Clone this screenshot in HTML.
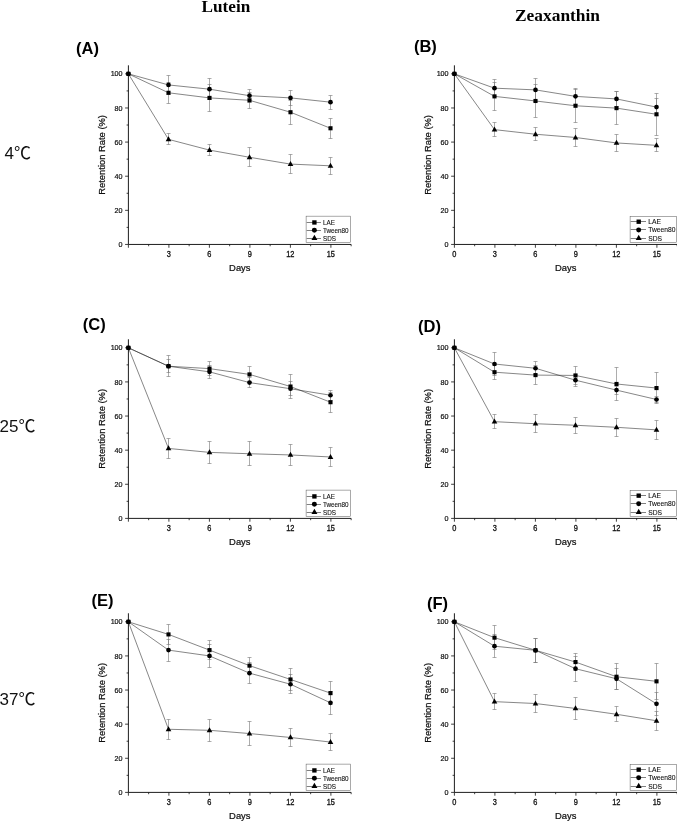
<!DOCTYPE html>
<html lang="en"><head><meta charset="utf-8"><title>Retention rate of lutein and zeaxanthin</title>
<style>
html,body{margin:0;padding:0;background:#fff}
body{width:677px;height:821px;overflow:hidden;position:relative}
svg{position:absolute;left:0;top:0;display:block}
text{font-family:"Liberation Sans",sans-serif;fill:#111}
.tk{font-size:7.2px;stroke:#111;stroke-width:0.2px;letter-spacing:-0.2px}
.tx{font-size:7.4px;stroke-width:0.28px;letter-spacing:-0.1px}
.at{font-size:9.4px;stroke:#111;stroke-width:0.22px}
.lg{font-size:6.35px;stroke:#111;stroke-width:0.1px}
.lr{font-size:6.7px}
.pl{font-size:16.5px;font-weight:bold;fill:#000}
.ti{font-family:"Liberation Serif",serif;font-weight:bold;font-size:17px;fill:#000}
.tp{font-family:"Liberation Sans","Noto Sans CJK SC",sans-serif;font-size:17px;fill:#111}
</style></head><body>
<svg width="677" height="821" viewBox="0 0 677 821">
<rect width="677" height="821" fill="#fff"/>
<text class="ti" x="201.5" y="12" style="font-size:17.2px">Lutein</text>
<text class="ti" x="515" y="21" style="font-size:17.4px">Zeaxanthin</text>
<text class="tp" x="4.5" y="159.0">4℃</text>
<text class="tp" x="-0.5" y="431.8">25℃</text>
<text class="tp" x="-0.5" y="705.4">37℃</text>
<g>
<path d="M128.4 65.32 V244.45 H351.15" fill="none" stroke="#111" stroke-width="0.95"/>
<path d="M128.4 244.45 h-3.3 M128.4 210.33 h-3.3 M128.4 176.21 h-3.3 M128.4 142.09 h-3.3 M128.4 107.97 h-3.3 M128.4 73.85 h-3.3 M128.4 227.39 h-1.8 M128.4 193.27 h-1.8 M128.4 159.15 h-1.8 M128.4 125.03 h-1.8 M128.4 90.91 h-1.8 M128.4 244.45 v3.3 M168.9 244.45 v3.3 M209.4 244.45 v3.3 M249.9 244.45 v3.3 M290.4 244.45 v3.3 M330.9 244.45 v3.3 M148.65 244.45 v1.8 M189.15 244.45 v1.8 M229.65 244.45 v1.8 M270.15 244.45 v1.8 M310.65 244.45 v1.8 M351.15 244.45 v1.8" fill="none" stroke="#111" stroke-width="0.8"/>
<text class="tk" transform="translate(122.2 247.05) scale(1 1.1)" text-anchor="end">0</text>
<text class="tk" transform="translate(122.2 212.93) scale(1 1.1)" text-anchor="end">20</text>
<text class="tk" transform="translate(122.2 178.81) scale(1 1.1)" text-anchor="end">40</text>
<text class="tk" transform="translate(122.2 144.69) scale(1 1.1)" text-anchor="end">60</text>
<text class="tk" transform="translate(122.2 110.57) scale(1 1.1)" text-anchor="end">80</text>
<text class="tk" transform="translate(122.2 76.45) scale(1 1.1)" text-anchor="end">100</text>
<text class="tk tx" transform="translate(168.75 256.65) scale(1 1.14)" text-anchor="middle">3</text>
<text class="tk tx" transform="translate(209.25 256.65) scale(1 1.14)" text-anchor="middle">6</text>
<text class="tk tx" transform="translate(249.75 256.65) scale(1 1.14)" text-anchor="middle">9</text>
<text class="tk tx" transform="translate(290.25 256.65) scale(1 1.14)" text-anchor="middle">12</text>
<text class="tk tx" transform="translate(330.75 256.65) scale(1 1.14)" text-anchor="middle">15</text>
<text class="at" transform="translate(239.78 270.95)" text-anchor="middle">Days</text>
<text class="at" transform="translate(105.4 154.88) rotate(-90)" text-anchor="middle">Retention Rate (%)</text>
<path d="M168.5 82.5 V103.5 M166.5 82.5 h4 M166.5 103.5 h4 M209.5 84.5 V111.5 M207.5 84.5 h4 M207.5 111.5 h4 M249.5 92.5 V108.5 M247.5 92.5 h4 M247.5 108.5 h4 M290.5 100.5 V124.5 M288.5 100.5 h4 M288.5 124.5 h4 M330.5 118.5 V138.5 M328.5 118.5 h4 M328.5 138.5 h4 M168.5 75.5 V94.5 M166.5 75.5 h4 M166.5 94.5 h4 M209.5 78.5 V99.5 M207.5 78.5 h4 M207.5 99.5 h4 M249.5 89.5 V102.5 M247.5 89.5 h4 M247.5 102.5 h4 M290.5 90.5 V105.5 M288.5 90.5 h4 M288.5 105.5 h4 M330.5 95.5 V109.5 M328.5 95.5 h4 M328.5 109.5 h4 M168.5 133.5 V144.5 M166.5 133.5 h4 M166.5 144.5 h4 M209.5 144.5 V155.5 M207.5 144.5 h4 M207.5 155.5 h4 M249.5 147.5 V166.5 M247.5 147.5 h4 M247.5 166.5 h4 M290.5 154.5 V173.5 M288.5 154.5 h4 M288.5 173.5 h4 M330.5 157.5 V174.5 M328.5 157.5 h4 M328.5 174.5 h4" fill="none" stroke="#767676" stroke-width="0.6"/>
<polyline points="128.4,73.85 168.5,92.79 209.5,97.9 249.5,100.29 290.5,112.23 330.5,128.27" fill="none" stroke="#222" stroke-width="0.55"/>
<polyline points="128.4,73.85 168.5,84.94 209.5,89.2 249.5,95.69 290.5,97.9 330.5,102.17" fill="none" stroke="#222" stroke-width="0.55"/>
<polyline points="128.4,73.85 168.5,139.36 209.5,150.11 249.5,157.27 290.5,164.1 330.5,165.8" fill="none" stroke="#222" stroke-width="0.55"/>
<rect x="126.35" y="71.8" width="4.1" height="4.1" fill="#000"/>
<rect x="166.45" y="90.74" width="4.1" height="4.1" fill="#000"/>
<rect x="207.45" y="95.85" width="4.1" height="4.1" fill="#000"/>
<rect x="247.45" y="98.24" width="4.1" height="4.1" fill="#000"/>
<rect x="288.45" y="110.18" width="4.1" height="4.1" fill="#000"/>
<rect x="328.45" y="126.22" width="4.1" height="4.1" fill="#000"/>
<circle cx="128.4" cy="73.85" r="2.35" fill="#000"/>
<circle cx="168.5" cy="84.94" r="2.35" fill="#000"/>
<circle cx="209.5" cy="89.2" r="2.35" fill="#000"/>
<circle cx="249.5" cy="95.69" r="2.35" fill="#000"/>
<circle cx="290.5" cy="97.9" r="2.35" fill="#000"/>
<circle cx="330.5" cy="102.17" r="2.35" fill="#000"/>
<path d="M168.5 136.26 L171.3 141.26 L165.7 141.26 Z" fill="#000"/>
<path d="M209.5 147.01 L212.3 152.01 L206.7 152.01 Z" fill="#000"/>
<path d="M249.5 154.17 L252.3 159.17 L246.7 159.17 Z" fill="#000"/>
<path d="M290.5 161 L293.3 166 L287.7 166 Z" fill="#000"/>
<path d="M330.5 162.7 L333.3 167.7 L327.7 167.7 Z" fill="#000"/>
<rect x="306.1" y="216.15" width="44.5" height="26.45" fill="#fff" stroke="#555" stroke-width="0.5"/>
<path d="M306.7 222.5 h14.3" stroke="#2a2a2a" stroke-width="0.6"/>
<rect x="312.23" y="220.28" width="4.35" height="4.35" fill="#000"/>
<text class="lg" transform="translate(322.9 224.95) scale(1 1.08)">LAE</text>
<path d="M306.7 230.5 h14.3" stroke="#2a2a2a" stroke-width="0.6"/>
<circle cx="314.4" cy="230.25" r="2.49" fill="#000"/>
<text class="lg" transform="translate(322.9 232.75) scale(1 1.08)">Tween80</text>
<path d="M306.7 238.5 h14.3" stroke="#2a2a2a" stroke-width="0.6"/>
<path d="M314.4 234.76 L317.37 240.06 L311.43 240.06 Z" fill="#000"/>
<text class="lg" transform="translate(322.9 240.55) scale(1 1.08)">SDS</text>
<text class="pl" x="76" y="53.7">(A)</text>
</g>
<g>
<path d="M454.4 65.32 V244.45 H677.15" fill="none" stroke="#111" stroke-width="0.95"/>
<path d="M454.4 244.45 h-3.3 M454.4 210.33 h-3.3 M454.4 176.21 h-3.3 M454.4 142.09 h-3.3 M454.4 107.97 h-3.3 M454.4 73.85 h-3.3 M454.4 227.39 h-1.8 M454.4 193.27 h-1.8 M454.4 159.15 h-1.8 M454.4 125.03 h-1.8 M454.4 90.91 h-1.8 M454.4 244.45 v3.3 M494.9 244.45 v3.3 M535.4 244.45 v3.3 M575.9 244.45 v3.3 M616.4 244.45 v3.3 M656.9 244.45 v3.3 M474.65 244.45 v1.8 M515.15 244.45 v1.8 M555.65 244.45 v1.8 M596.15 244.45 v1.8 M636.65 244.45 v1.8 M677.15 244.45 v1.8" fill="none" stroke="#111" stroke-width="0.8"/>
<text class="tk" transform="translate(448.2 247.05) scale(1 1.1)" text-anchor="end">0</text>
<text class="tk" transform="translate(448.2 212.93) scale(1 1.1)" text-anchor="end">20</text>
<text class="tk" transform="translate(448.2 178.81) scale(1 1.1)" text-anchor="end">40</text>
<text class="tk" transform="translate(448.2 144.69) scale(1 1.1)" text-anchor="end">60</text>
<text class="tk" transform="translate(448.2 110.57) scale(1 1.1)" text-anchor="end">80</text>
<text class="tk" transform="translate(448.2 76.45) scale(1 1.1)" text-anchor="end">100</text>
<text class="tk tx" transform="translate(454.25 256.65) scale(1 1.14)" text-anchor="middle">0</text>
<text class="tk tx" transform="translate(494.75 256.65) scale(1 1.14)" text-anchor="middle">3</text>
<text class="tk tx" transform="translate(535.25 256.65) scale(1 1.14)" text-anchor="middle">6</text>
<text class="tk tx" transform="translate(575.75 256.65) scale(1 1.14)" text-anchor="middle">9</text>
<text class="tk tx" transform="translate(616.25 256.65) scale(1 1.14)" text-anchor="middle">12</text>
<text class="tk tx" transform="translate(656.75 256.65) scale(1 1.14)" text-anchor="middle">15</text>
<text class="at" transform="translate(565.77 270.95)" text-anchor="middle">Days</text>
<text class="at" transform="translate(431.4 154.88) rotate(-90)" text-anchor="middle">Retention Rate (%)</text>
<path d="M494.5 82.5 V110.5 M492.5 82.5 h4 M492.5 110.5 h4 M535.5 84.5 V117.5 M533.5 84.5 h4 M533.5 117.5 h4 M575.5 89.5 V122.5 M573.5 89.5 h4 M573.5 122.5 h4 M616.5 91.5 V124.5 M614.5 91.5 h4 M614.5 124.5 h4 M656.5 93.5 V135.5 M654.5 93.5 h4 M654.5 135.5 h4 M494.5 79.5 V96.5 M492.5 79.5 h4 M492.5 96.5 h4 M535.5 78.5 V101.5 M533.5 78.5 h4 M533.5 101.5 h4 M575.5 88.5 V104.5 M573.5 88.5 h4 M573.5 104.5 h4 M616.5 91.5 V106.5 M614.5 91.5 h4 M614.5 106.5 h4 M656.5 98.5 V115.5 M654.5 98.5 h4 M654.5 115.5 h4 M494.5 122.5 V136.5 M492.5 122.5 h4 M492.5 136.5 h4 M535.5 127.5 V140.5 M533.5 127.5 h4 M533.5 140.5 h4 M575.5 128.5 V146.5 M573.5 128.5 h4 M573.5 146.5 h4 M616.5 134.5 V151.5 M614.5 134.5 h4 M614.5 151.5 h4 M656.5 138.5 V151.5 M654.5 138.5 h4 M654.5 151.5 h4" fill="none" stroke="#767676" stroke-width="0.6"/>
<polyline points="454.4,73.85 494.5,96.37 535.5,100.98 575.5,105.75 616.5,108.14 656.5,114.28" fill="none" stroke="#222" stroke-width="0.55"/>
<polyline points="454.4,73.85 494.5,88.18 535.5,89.89 575.5,96.37 616.5,98.93 656.5,107.12" fill="none" stroke="#222" stroke-width="0.55"/>
<polyline points="454.4,73.85 494.5,129.64 535.5,134.24 575.5,137.48 616.5,142.94 656.5,145.33" fill="none" stroke="#222" stroke-width="0.55"/>
<rect x="452.35" y="71.8" width="4.1" height="4.1" fill="#000"/>
<rect x="492.45" y="94.32" width="4.1" height="4.1" fill="#000"/>
<rect x="533.45" y="98.93" width="4.1" height="4.1" fill="#000"/>
<rect x="573.45" y="103.7" width="4.1" height="4.1" fill="#000"/>
<rect x="614.45" y="106.09" width="4.1" height="4.1" fill="#000"/>
<rect x="654.45" y="112.23" width="4.1" height="4.1" fill="#000"/>
<circle cx="454.4" cy="73.85" r="2.35" fill="#000"/>
<circle cx="494.5" cy="88.18" r="2.35" fill="#000"/>
<circle cx="535.5" cy="89.89" r="2.35" fill="#000"/>
<circle cx="575.5" cy="96.37" r="2.35" fill="#000"/>
<circle cx="616.5" cy="98.93" r="2.35" fill="#000"/>
<circle cx="656.5" cy="107.12" r="2.35" fill="#000"/>
<path d="M494.5 126.54 L497.3 131.54 L491.7 131.54 Z" fill="#000"/>
<path d="M535.5 131.14 L538.3 136.14 L532.7 136.14 Z" fill="#000"/>
<path d="M575.5 134.38 L578.3 139.38 L572.7 139.38 Z" fill="#000"/>
<path d="M616.5 139.84 L619.3 144.84 L613.7 144.84 Z" fill="#000"/>
<path d="M656.5 142.23 L659.3 147.23 L653.7 147.23 Z" fill="#000"/>
<rect x="630.1" y="216.45" width="46.5" height="26.15" fill="#fff" stroke="#555" stroke-width="0.5"/>
<path d="M630.7 221.5 h15.3" stroke="#2a2a2a" stroke-width="0.6"/>
<rect x="636.53" y="219.53" width="4.35" height="4.35" fill="#000"/>
<text class="lg lr" transform="translate(648.2 224.2) scale(1 1.08)">LAE</text>
<path d="M630.7 229.5 h15.3" stroke="#2a2a2a" stroke-width="0.6"/>
<circle cx="638.7" cy="229.9" r="2.49" fill="#000"/>
<text class="lg lr" transform="translate(648.2 232.4) scale(1 1.08)">Tween80</text>
<path d="M630.7 238.5 h15.3" stroke="#2a2a2a" stroke-width="0.6"/>
<path d="M638.7 234.81 L641.67 240.11 L635.73 240.11 Z" fill="#000"/>
<text class="lg lr" transform="translate(648.2 240.6) scale(1 1.08)">SDS</text>
<text class="pl" x="413.9" y="51.5">(B)</text>
</g>
<g>
<path d="M128.4 339.27 V518.4 H351.15" fill="none" stroke="#111" stroke-width="0.95"/>
<path d="M128.4 518.4 h-3.3 M128.4 484.28 h-3.3 M128.4 450.16 h-3.3 M128.4 416.04 h-3.3 M128.4 381.92 h-3.3 M128.4 347.8 h-3.3 M128.4 501.34 h-1.8 M128.4 467.22 h-1.8 M128.4 433.1 h-1.8 M128.4 398.98 h-1.8 M128.4 364.86 h-1.8 M128.4 518.4 v3.3 M168.9 518.4 v3.3 M209.4 518.4 v3.3 M249.9 518.4 v3.3 M290.4 518.4 v3.3 M330.9 518.4 v3.3 M148.65 518.4 v1.8 M189.15 518.4 v1.8 M229.65 518.4 v1.8 M270.15 518.4 v1.8 M310.65 518.4 v1.8 M351.15 518.4 v1.8" fill="none" stroke="#111" stroke-width="0.8"/>
<text class="tk" transform="translate(122.2 521) scale(1 1.1)" text-anchor="end">0</text>
<text class="tk" transform="translate(122.2 486.88) scale(1 1.1)" text-anchor="end">20</text>
<text class="tk" transform="translate(122.2 452.76) scale(1 1.1)" text-anchor="end">40</text>
<text class="tk" transform="translate(122.2 418.64) scale(1 1.1)" text-anchor="end">60</text>
<text class="tk" transform="translate(122.2 384.52) scale(1 1.1)" text-anchor="end">80</text>
<text class="tk" transform="translate(122.2 350.4) scale(1 1.1)" text-anchor="end">100</text>
<text class="tk tx" transform="translate(168.75 530.6) scale(1 1.14)" text-anchor="middle">3</text>
<text class="tk tx" transform="translate(209.25 530.6) scale(1 1.14)" text-anchor="middle">6</text>
<text class="tk tx" transform="translate(249.75 530.6) scale(1 1.14)" text-anchor="middle">9</text>
<text class="tk tx" transform="translate(290.25 530.6) scale(1 1.14)" text-anchor="middle">12</text>
<text class="tk tx" transform="translate(330.75 530.6) scale(1 1.14)" text-anchor="middle">15</text>
<text class="at" transform="translate(239.78 544.9)" text-anchor="middle">Days</text>
<text class="at" transform="translate(105.4 428.84) rotate(-90)" text-anchor="middle">Retention Rate (%)</text>
<path d="M168.5 359.5 V372.5 M166.5 359.5 h4 M166.5 372.5 h4 M209.5 361.5 V375.5 M207.5 361.5 h4 M207.5 375.5 h4 M249.5 366.5 V381.5 M247.5 366.5 h4 M247.5 381.5 h4 M290.5 374.5 V398.5 M288.5 374.5 h4 M288.5 398.5 h4 M330.5 392.5 V412.5 M328.5 392.5 h4 M328.5 412.5 h4 M168.5 355.5 V376.5 M166.5 355.5 h4 M166.5 376.5 h4 M209.5 365.5 V378.5 M207.5 365.5 h4 M207.5 378.5 h4 M249.5 377.5 V387.5 M247.5 377.5 h4 M247.5 387.5 h4 M290.5 381.5 V395.5 M288.5 381.5 h4 M288.5 395.5 h4 M330.5 390.5 V400.5 M328.5 390.5 h4 M328.5 400.5 h4 M168.5 438.5 V458.5 M166.5 438.5 h4 M166.5 458.5 h4 M209.5 441.5 V463.5 M207.5 441.5 h4 M207.5 463.5 h4 M249.5 441.5 V465.5 M247.5 441.5 h4 M247.5 465.5 h4 M290.5 444.5 V465.5 M288.5 444.5 h4 M288.5 465.5 h4 M330.5 447.5 V466.5 M328.5 447.5 h4 M328.5 466.5 h4" fill="none" stroke="#767676" stroke-width="0.6"/>
<polyline points="128.4,347.8 168.5,366.22 209.5,368.61 249.5,374.41 290.5,386.53 330.5,402.22" fill="none" stroke="#222" stroke-width="0.55"/>
<polyline points="128.4,347.8 168.5,366.22 209.5,371.85 249.5,382.6 290.5,388.74 330.5,395.23" fill="none" stroke="#222" stroke-width="0.55"/>
<polyline points="128.4,347.8 168.5,448.45 209.5,452.38 249.5,453.74 290.5,454.94 330.5,456.98" fill="none" stroke="#222" stroke-width="0.55"/>
<rect x="126.35" y="345.75" width="4.1" height="4.1" fill="#000"/>
<rect x="166.45" y="364.17" width="4.1" height="4.1" fill="#000"/>
<rect x="207.45" y="366.56" width="4.1" height="4.1" fill="#000"/>
<rect x="247.45" y="372.36" width="4.1" height="4.1" fill="#000"/>
<rect x="288.45" y="384.48" width="4.1" height="4.1" fill="#000"/>
<rect x="328.45" y="400.17" width="4.1" height="4.1" fill="#000"/>
<circle cx="128.4" cy="347.8" r="2.35" fill="#000"/>
<circle cx="168.5" cy="366.22" r="2.35" fill="#000"/>
<circle cx="209.5" cy="371.85" r="2.35" fill="#000"/>
<circle cx="249.5" cy="382.6" r="2.35" fill="#000"/>
<circle cx="290.5" cy="388.74" r="2.35" fill="#000"/>
<circle cx="330.5" cy="395.23" r="2.35" fill="#000"/>
<path d="M168.5 445.35 L171.3 450.35 L165.7 450.35 Z" fill="#000"/>
<path d="M209.5 449.28 L212.3 454.28 L206.7 454.28 Z" fill="#000"/>
<path d="M249.5 450.64 L252.3 455.64 L246.7 455.64 Z" fill="#000"/>
<path d="M290.5 451.84 L293.3 456.84 L287.7 456.84 Z" fill="#000"/>
<path d="M330.5 453.88 L333.3 458.88 L327.7 458.88 Z" fill="#000"/>
<rect x="306.1" y="490.1" width="44.5" height="26.45" fill="#fff" stroke="#555" stroke-width="0.5"/>
<path d="M306.7 496.5 h14.3" stroke="#2a2a2a" stroke-width="0.6"/>
<rect x="312.23" y="494.23" width="4.35" height="4.35" fill="#000"/>
<text class="lg" transform="translate(322.9 498.9) scale(1 1.08)">LAE</text>
<path d="M306.7 504.5 h14.3" stroke="#2a2a2a" stroke-width="0.6"/>
<circle cx="314.4" cy="504.2" r="2.49" fill="#000"/>
<text class="lg" transform="translate(322.9 506.7) scale(1 1.08)">Tween80</text>
<path d="M306.7 512.5 h14.3" stroke="#2a2a2a" stroke-width="0.6"/>
<path d="M314.4 508.71 L317.37 514.01 L311.43 514.01 Z" fill="#000"/>
<text class="lg" transform="translate(322.9 514.5) scale(1 1.08)">SDS</text>
<text class="pl" x="82.8" y="329.5">(C)</text>
</g>
<g>
<path d="M454.4 339.27 V518.4 H677.15" fill="none" stroke="#111" stroke-width="0.95"/>
<path d="M454.4 518.4 h-3.3 M454.4 484.28 h-3.3 M454.4 450.16 h-3.3 M454.4 416.04 h-3.3 M454.4 381.92 h-3.3 M454.4 347.8 h-3.3 M454.4 501.34 h-1.8 M454.4 467.22 h-1.8 M454.4 433.1 h-1.8 M454.4 398.98 h-1.8 M454.4 364.86 h-1.8 M454.4 518.4 v3.3 M494.9 518.4 v3.3 M535.4 518.4 v3.3 M575.9 518.4 v3.3 M616.4 518.4 v3.3 M656.9 518.4 v3.3 M474.65 518.4 v1.8 M515.15 518.4 v1.8 M555.65 518.4 v1.8 M596.15 518.4 v1.8 M636.65 518.4 v1.8 M677.15 518.4 v1.8" fill="none" stroke="#111" stroke-width="0.8"/>
<text class="tk" transform="translate(448.2 521) scale(1 1.1)" text-anchor="end">0</text>
<text class="tk" transform="translate(448.2 486.88) scale(1 1.1)" text-anchor="end">20</text>
<text class="tk" transform="translate(448.2 452.76) scale(1 1.1)" text-anchor="end">40</text>
<text class="tk" transform="translate(448.2 418.64) scale(1 1.1)" text-anchor="end">60</text>
<text class="tk" transform="translate(448.2 384.52) scale(1 1.1)" text-anchor="end">80</text>
<text class="tk" transform="translate(448.2 350.4) scale(1 1.1)" text-anchor="end">100</text>
<text class="tk tx" transform="translate(454.25 530.6) scale(1 1.14)" text-anchor="middle">0</text>
<text class="tk tx" transform="translate(494.75 530.6) scale(1 1.14)" text-anchor="middle">3</text>
<text class="tk tx" transform="translate(535.25 530.6) scale(1 1.14)" text-anchor="middle">6</text>
<text class="tk tx" transform="translate(575.75 530.6) scale(1 1.14)" text-anchor="middle">9</text>
<text class="tk tx" transform="translate(616.25 530.6) scale(1 1.14)" text-anchor="middle">12</text>
<text class="tk tx" transform="translate(656.75 530.6) scale(1 1.14)" text-anchor="middle">15</text>
<text class="at" transform="translate(565.77 544.9)" text-anchor="middle">Days</text>
<text class="at" transform="translate(431.4 428.84) rotate(-90)" text-anchor="middle">Retention Rate (%)</text>
<path d="M494.5 365.5 V379.5 M492.5 365.5 h4 M492.5 379.5 h4 M535.5 365.5 V384.5 M533.5 365.5 h4 M533.5 384.5 h4 M575.5 366.5 V384.5 M573.5 366.5 h4 M573.5 384.5 h4 M616.5 367.5 V400.5 M614.5 367.5 h4 M614.5 400.5 h4 M656.5 372.5 V403.5 M654.5 372.5 h4 M654.5 403.5 h4 M494.5 352.5 V375.5 M492.5 352.5 h4 M492.5 375.5 h4 M535.5 361.5 V374.5 M533.5 361.5 h4 M533.5 374.5 h4 M575.5 374.5 V386.5 M573.5 374.5 h4 M573.5 386.5 h4 M616.5 386.5 V394.5 M614.5 386.5 h4 M614.5 394.5 h4 M656.5 396.5 V402.5 M654.5 396.5 h4 M654.5 402.5 h4 M494.5 414.5 V428.5 M492.5 414.5 h4 M492.5 428.5 h4 M535.5 414.5 V432.5 M533.5 414.5 h4 M533.5 432.5 h4 M575.5 417.5 V433.5 M573.5 417.5 h4 M573.5 433.5 h4 M616.5 418.5 V436.5 M614.5 418.5 h4 M614.5 436.5 h4 M656.5 420.5 V439.5 M654.5 420.5 h4 M654.5 439.5 h4" fill="none" stroke="#767676" stroke-width="0.6"/>
<polyline points="454.4,347.8 494.5,372.2 535.5,375.1 575.5,375.44 616.5,383.97 656.5,388.06" fill="none" stroke="#222" stroke-width="0.55"/>
<polyline points="454.4,347.8 494.5,364.01 535.5,368.27 575.5,380.21 616.5,390.11 656.5,399.49" fill="none" stroke="#222" stroke-width="0.55"/>
<polyline points="454.4,347.8 494.5,421.67 535.5,423.72 575.5,425.25 616.5,427.3 656.5,429.86" fill="none" stroke="#222" stroke-width="0.55"/>
<rect x="452.35" y="345.75" width="4.1" height="4.1" fill="#000"/>
<rect x="492.45" y="370.15" width="4.1" height="4.1" fill="#000"/>
<rect x="533.45" y="373.05" width="4.1" height="4.1" fill="#000"/>
<rect x="573.45" y="373.39" width="4.1" height="4.1" fill="#000"/>
<rect x="614.45" y="381.92" width="4.1" height="4.1" fill="#000"/>
<rect x="654.45" y="386.01" width="4.1" height="4.1" fill="#000"/>
<circle cx="454.4" cy="347.8" r="2.35" fill="#000"/>
<circle cx="494.5" cy="364.01" r="2.35" fill="#000"/>
<circle cx="535.5" cy="368.27" r="2.35" fill="#000"/>
<circle cx="575.5" cy="380.21" r="2.35" fill="#000"/>
<circle cx="616.5" cy="390.11" r="2.35" fill="#000"/>
<circle cx="656.5" cy="399.49" r="2.35" fill="#000"/>
<path d="M494.5 418.57 L497.3 423.57 L491.7 423.57 Z" fill="#000"/>
<path d="M535.5 420.62 L538.3 425.62 L532.7 425.62 Z" fill="#000"/>
<path d="M575.5 422.15 L578.3 427.15 L572.7 427.15 Z" fill="#000"/>
<path d="M616.5 424.2 L619.3 429.2 L613.7 429.2 Z" fill="#000"/>
<path d="M656.5 426.76 L659.3 431.76 L653.7 431.76 Z" fill="#000"/>
<rect x="630.1" y="490.4" width="46.5" height="26.15" fill="#fff" stroke="#555" stroke-width="0.5"/>
<path d="M630.7 495.5 h15.3" stroke="#2a2a2a" stroke-width="0.6"/>
<rect x="636.53" y="493.48" width="4.35" height="4.35" fill="#000"/>
<text class="lg lr" transform="translate(648.2 498.15) scale(1 1.08)">LAE</text>
<path d="M630.7 503.5 h15.3" stroke="#2a2a2a" stroke-width="0.6"/>
<circle cx="638.7" cy="503.85" r="2.49" fill="#000"/>
<text class="lg lr" transform="translate(648.2 506.35) scale(1 1.08)">Tween80</text>
<path d="M630.7 512.5 h15.3" stroke="#2a2a2a" stroke-width="0.6"/>
<path d="M638.7 508.76 L641.67 514.06 L635.73 514.06 Z" fill="#000"/>
<text class="lg lr" transform="translate(648.2 514.55) scale(1 1.08)">SDS</text>
<text class="pl" x="418.1" y="332.2">(D)</text>
</g>
<g>
<path d="M128.4 613.27 V792.4 H351.15" fill="none" stroke="#111" stroke-width="0.95"/>
<path d="M128.4 792.4 h-3.3 M128.4 758.28 h-3.3 M128.4 724.16 h-3.3 M128.4 690.04 h-3.3 M128.4 655.92 h-3.3 M128.4 621.8 h-3.3 M128.4 775.34 h-1.8 M128.4 741.22 h-1.8 M128.4 707.1 h-1.8 M128.4 672.98 h-1.8 M128.4 638.86 h-1.8 M128.4 792.4 v3.3 M168.9 792.4 v3.3 M209.4 792.4 v3.3 M249.9 792.4 v3.3 M290.4 792.4 v3.3 M330.9 792.4 v3.3 M148.65 792.4 v1.8 M189.15 792.4 v1.8 M229.65 792.4 v1.8 M270.15 792.4 v1.8 M310.65 792.4 v1.8 M351.15 792.4 v1.8" fill="none" stroke="#111" stroke-width="0.8"/>
<text class="tk" transform="translate(122.2 795) scale(1 1.1)" text-anchor="end">0</text>
<text class="tk" transform="translate(122.2 760.88) scale(1 1.1)" text-anchor="end">20</text>
<text class="tk" transform="translate(122.2 726.76) scale(1 1.1)" text-anchor="end">40</text>
<text class="tk" transform="translate(122.2 692.64) scale(1 1.1)" text-anchor="end">60</text>
<text class="tk" transform="translate(122.2 658.52) scale(1 1.1)" text-anchor="end">80</text>
<text class="tk" transform="translate(122.2 624.4) scale(1 1.1)" text-anchor="end">100</text>
<text class="tk tx" transform="translate(168.75 804.6) scale(1 1.14)" text-anchor="middle">3</text>
<text class="tk tx" transform="translate(209.25 804.6) scale(1 1.14)" text-anchor="middle">6</text>
<text class="tk tx" transform="translate(249.75 804.6) scale(1 1.14)" text-anchor="middle">9</text>
<text class="tk tx" transform="translate(290.25 804.6) scale(1 1.14)" text-anchor="middle">12</text>
<text class="tk tx" transform="translate(330.75 804.6) scale(1 1.14)" text-anchor="middle">15</text>
<text class="at" transform="translate(239.78 818.9)" text-anchor="middle">Days</text>
<text class="at" transform="translate(105.4 702.83) rotate(-90)" text-anchor="middle">Retention Rate (%)</text>
<path d="M168.5 624.5 V644.5 M166.5 624.5 h4 M166.5 644.5 h4 M209.5 640.5 V659.5 M207.5 640.5 h4 M207.5 659.5 h4 M249.5 657.5 V673.5 M247.5 657.5 h4 M247.5 673.5 h4 M290.5 668.5 V690.5 M288.5 668.5 h4 M288.5 690.5 h4 M330.5 681.5 V704.5 M328.5 681.5 h4 M328.5 704.5 h4 M168.5 639.5 V661.5 M166.5 639.5 h4 M166.5 661.5 h4 M209.5 644.5 V667.5 M207.5 644.5 h4 M207.5 667.5 h4 M249.5 662.5 V683.5 M247.5 662.5 h4 M247.5 683.5 h4 M290.5 674.5 V693.5 M288.5 674.5 h4 M288.5 693.5 h4 M330.5 691.5 V714.5 M328.5 691.5 h4 M328.5 714.5 h4 M168.5 719.5 V739.5 M166.5 719.5 h4 M166.5 739.5 h4 M209.5 719.5 V741.5 M207.5 719.5 h4 M207.5 741.5 h4 M249.5 721.5 V745.5 M247.5 721.5 h4 M247.5 745.5 h4 M290.5 728.5 V746.5 M288.5 728.5 h4 M288.5 746.5 h4 M330.5 733.5 V750.5 M328.5 733.5 h4 M328.5 750.5 h4" fill="none" stroke="#767676" stroke-width="0.6"/>
<polyline points="128.4,621.8 168.5,634.42 209.5,650.12 249.5,665.64 290.5,679.46 330.5,693.11" fill="none" stroke="#222" stroke-width="0.55"/>
<polyline points="128.4,621.8 168.5,650.12 209.5,655.92 249.5,673.15 290.5,684.24 330.5,702.83" fill="none" stroke="#222" stroke-width="0.55"/>
<polyline points="128.4,621.8 168.5,729.28 209.5,730.3 249.5,733.54 290.5,737.47 330.5,742.07" fill="none" stroke="#222" stroke-width="0.55"/>
<rect x="126.35" y="619.75" width="4.1" height="4.1" fill="#000"/>
<rect x="166.45" y="632.37" width="4.1" height="4.1" fill="#000"/>
<rect x="207.45" y="648.07" width="4.1" height="4.1" fill="#000"/>
<rect x="247.45" y="663.59" width="4.1" height="4.1" fill="#000"/>
<rect x="288.45" y="677.41" width="4.1" height="4.1" fill="#000"/>
<rect x="328.45" y="691.06" width="4.1" height="4.1" fill="#000"/>
<circle cx="128.4" cy="621.8" r="2.35" fill="#000"/>
<circle cx="168.5" cy="650.12" r="2.35" fill="#000"/>
<circle cx="209.5" cy="655.92" r="2.35" fill="#000"/>
<circle cx="249.5" cy="673.15" r="2.35" fill="#000"/>
<circle cx="290.5" cy="684.24" r="2.35" fill="#000"/>
<circle cx="330.5" cy="702.83" r="2.35" fill="#000"/>
<path d="M168.5 726.18 L171.3 731.18 L165.7 731.18 Z" fill="#000"/>
<path d="M209.5 727.2 L212.3 732.2 L206.7 732.2 Z" fill="#000"/>
<path d="M249.5 730.44 L252.3 735.44 L246.7 735.44 Z" fill="#000"/>
<path d="M290.5 734.37 L293.3 739.37 L287.7 739.37 Z" fill="#000"/>
<path d="M330.5 738.97 L333.3 743.97 L327.7 743.97 Z" fill="#000"/>
<rect x="306.1" y="764.1" width="44.5" height="26.45" fill="#fff" stroke="#555" stroke-width="0.5"/>
<path d="M306.7 770.5 h14.3" stroke="#2a2a2a" stroke-width="0.6"/>
<rect x="312.23" y="768.23" width="4.35" height="4.35" fill="#000"/>
<text class="lg" transform="translate(322.9 772.9) scale(1 1.08)">LAE</text>
<path d="M306.7 778.5 h14.3" stroke="#2a2a2a" stroke-width="0.6"/>
<circle cx="314.4" cy="778.2" r="2.49" fill="#000"/>
<text class="lg" transform="translate(322.9 780.7) scale(1 1.08)">Tween80</text>
<path d="M306.7 786.5 h14.3" stroke="#2a2a2a" stroke-width="0.6"/>
<path d="M314.4 782.71 L317.37 788.01 L311.43 788.01 Z" fill="#000"/>
<text class="lg" transform="translate(322.9 788.5) scale(1 1.08)">SDS</text>
<text class="pl" x="91.4" y="606">(E)</text>
</g>
<g>
<path d="M454.4 613.27 V792.4 H677.15" fill="none" stroke="#111" stroke-width="0.95"/>
<path d="M454.4 792.4 h-3.3 M454.4 758.28 h-3.3 M454.4 724.16 h-3.3 M454.4 690.04 h-3.3 M454.4 655.92 h-3.3 M454.4 621.8 h-3.3 M454.4 775.34 h-1.8 M454.4 741.22 h-1.8 M454.4 707.1 h-1.8 M454.4 672.98 h-1.8 M454.4 638.86 h-1.8 M454.4 792.4 v3.3 M494.9 792.4 v3.3 M535.4 792.4 v3.3 M575.9 792.4 v3.3 M616.4 792.4 v3.3 M656.9 792.4 v3.3 M474.65 792.4 v1.8 M515.15 792.4 v1.8 M555.65 792.4 v1.8 M596.15 792.4 v1.8 M636.65 792.4 v1.8 M677.15 792.4 v1.8" fill="none" stroke="#111" stroke-width="0.8"/>
<text class="tk" transform="translate(448.2 795) scale(1 1.1)" text-anchor="end">0</text>
<text class="tk" transform="translate(448.2 760.88) scale(1 1.1)" text-anchor="end">20</text>
<text class="tk" transform="translate(448.2 726.76) scale(1 1.1)" text-anchor="end">40</text>
<text class="tk" transform="translate(448.2 692.64) scale(1 1.1)" text-anchor="end">60</text>
<text class="tk" transform="translate(448.2 658.52) scale(1 1.1)" text-anchor="end">80</text>
<text class="tk" transform="translate(448.2 624.4) scale(1 1.1)" text-anchor="end">100</text>
<text class="tk tx" transform="translate(454.25 804.6) scale(1 1.14)" text-anchor="middle">0</text>
<text class="tk tx" transform="translate(494.75 804.6) scale(1 1.14)" text-anchor="middle">3</text>
<text class="tk tx" transform="translate(535.25 804.6) scale(1 1.14)" text-anchor="middle">6</text>
<text class="tk tx" transform="translate(575.75 804.6) scale(1 1.14)" text-anchor="middle">9</text>
<text class="tk tx" transform="translate(616.25 804.6) scale(1 1.14)" text-anchor="middle">12</text>
<text class="tk tx" transform="translate(656.75 804.6) scale(1 1.14)" text-anchor="middle">15</text>
<text class="at" transform="translate(565.77 818.9)" text-anchor="middle">Days</text>
<text class="at" transform="translate(431.4 702.83) rotate(-90)" text-anchor="middle">Retention Rate (%)</text>
<path d="M494.5 625.5 V649.5 M492.5 625.5 h4 M492.5 649.5 h4 M535.5 638.5 V662.5 M533.5 638.5 h4 M533.5 662.5 h4 M575.5 653.5 V670.5 M573.5 653.5 h4 M573.5 670.5 h4 M616.5 663.5 V689.5 M614.5 663.5 h4 M614.5 689.5 h4 M656.5 663.5 V699.5 M654.5 663.5 h4 M654.5 699.5 h4 M494.5 634.5 V657.5 M492.5 634.5 h4 M492.5 657.5 h4 M535.5 638.5 V662.5 M533.5 638.5 h4 M533.5 662.5 h4 M575.5 656.5 V681.5 M573.5 656.5 h4 M573.5 681.5 h4 M616.5 668.5 V689.5 M614.5 668.5 h4 M614.5 689.5 h4 M656.5 692.5 V715.5 M654.5 692.5 h4 M654.5 715.5 h4 M494.5 693.5 V709.5 M492.5 693.5 h4 M492.5 709.5 h4 M535.5 694.5 V712.5 M533.5 694.5 h4 M533.5 712.5 h4 M575.5 697.5 V719.5 M573.5 697.5 h4 M573.5 719.5 h4 M616.5 706.5 V721.5 M614.5 706.5 h4 M614.5 721.5 h4 M656.5 711.5 V730.5 M654.5 711.5 h4 M654.5 730.5 h4" fill="none" stroke="#767676" stroke-width="0.6"/>
<polyline points="454.4,621.8 494.5,637.67 535.5,650.29 575.5,662.06 616.5,676.73 656.5,681.34" fill="none" stroke="#222" stroke-width="0.55"/>
<polyline points="454.4,621.8 494.5,646.2 535.5,650.29 575.5,668.71 616.5,678.78 656.5,703.86" fill="none" stroke="#222" stroke-width="0.55"/>
<polyline points="454.4,621.8 494.5,701.64 535.5,703.52 575.5,708.46 616.5,714.27 656.5,720.75" fill="none" stroke="#222" stroke-width="0.55"/>
<rect x="452.35" y="619.75" width="4.1" height="4.1" fill="#000"/>
<rect x="492.45" y="635.62" width="4.1" height="4.1" fill="#000"/>
<rect x="533.45" y="648.24" width="4.1" height="4.1" fill="#000"/>
<rect x="573.45" y="660.01" width="4.1" height="4.1" fill="#000"/>
<rect x="614.45" y="674.68" width="4.1" height="4.1" fill="#000"/>
<rect x="654.45" y="679.29" width="4.1" height="4.1" fill="#000"/>
<circle cx="454.4" cy="621.8" r="2.35" fill="#000"/>
<circle cx="494.5" cy="646.2" r="2.35" fill="#000"/>
<circle cx="535.5" cy="650.29" r="2.35" fill="#000"/>
<circle cx="575.5" cy="668.71" r="2.35" fill="#000"/>
<circle cx="616.5" cy="678.78" r="2.35" fill="#000"/>
<circle cx="656.5" cy="703.86" r="2.35" fill="#000"/>
<path d="M494.5 698.54 L497.3 703.54 L491.7 703.54 Z" fill="#000"/>
<path d="M535.5 700.42 L538.3 705.42 L532.7 705.42 Z" fill="#000"/>
<path d="M575.5 705.36 L578.3 710.36 L572.7 710.36 Z" fill="#000"/>
<path d="M616.5 711.17 L619.3 716.17 L613.7 716.17 Z" fill="#000"/>
<path d="M656.5 717.65 L659.3 722.65 L653.7 722.65 Z" fill="#000"/>
<rect x="630.1" y="764.4" width="46.5" height="26.15" fill="#fff" stroke="#555" stroke-width="0.5"/>
<path d="M630.7 769.5 h15.3" stroke="#2a2a2a" stroke-width="0.6"/>
<rect x="636.53" y="767.48" width="4.35" height="4.35" fill="#000"/>
<text class="lg lr" transform="translate(648.2 772.15) scale(1 1.08)">LAE</text>
<path d="M630.7 777.5 h15.3" stroke="#2a2a2a" stroke-width="0.6"/>
<circle cx="638.7" cy="777.85" r="2.49" fill="#000"/>
<text class="lg lr" transform="translate(648.2 780.35) scale(1 1.08)">Tween80</text>
<path d="M630.7 786.5 h15.3" stroke="#2a2a2a" stroke-width="0.6"/>
<path d="M638.7 782.76 L641.67 788.06 L635.73 788.06 Z" fill="#000"/>
<text class="lg lr" transform="translate(648.2 788.55) scale(1 1.08)">SDS</text>
<text class="pl" x="426.9" y="609.1">(F)</text>
</g>
</svg>
</body></html>
